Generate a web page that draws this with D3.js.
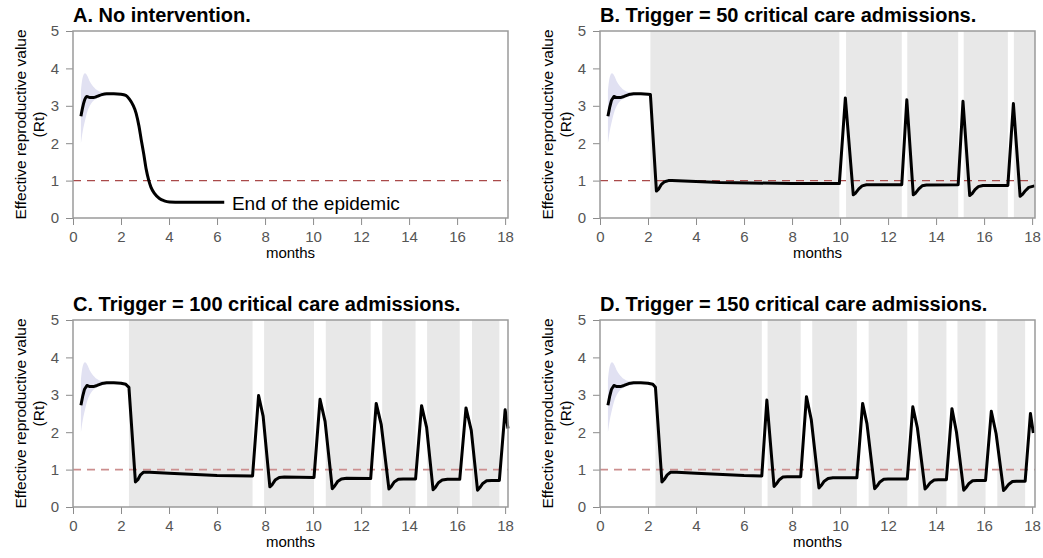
<!DOCTYPE html>
<meta charset="utf-8">
<html>
<script src="https://d3js.org/d3.v7.min.js"></script>
<style>
  body { margin: 0; background: #fff; }
  text { font-family: "Liberation Sans", Arial, sans-serif; }
</style>
<body>
<div id="chart"></div>
<script>

// ---- data ----
// shared start of the epidemic (months, Rt)
var startMonths = [0.33, 0.4, 0.48, 0.58, 0.7, 0.85, 1.0, 1.2, 1.4, 1.7, 2.0];
var startRt     = [2.72, 2.95, 3.15, 3.25, 3.22, 3.22, 3.25, 3.3, 3.32, 3.32, 3.31];

// uncertainty band around the start
var bandMonths = [0.33, 0.4, 0.5, 0.6, 0.7, 0.8, 1.0, 1.2, 1.5, 1.8];
var bandUpper  = [3.4, 3.75, 3.87, 3.8, 3.65, 3.55, 3.42, 3.36, 3.33, 3.31];
var bandLower  = [2.0, 2.3, 2.6, 2.85, 3.0, 3.1, 3.2, 3.25, 3.28, 3.3];

// A. no intervention
var monthsA = [2.2, 2.35, 2.5, 2.63, 2.75, 2.84, 2.95, 3.05, 3.15, 3.25, 3.4, 3.6, 3.8, 4.02, 4.5, 6.3];
var rtA     = [3.28, 3.18, 3.02, 2.8, 2.45, 2.1, 1.7, 1.3, 1.02, 0.82, 0.65, 0.52, 0.46, 0.43, 0.42, 0.42];

// B. trigger = 50
var monthsB = [2.1, 2.35, 2.45, 2.56, 2.69, 2.85, 3.0, 5, 8, 9.97, 10.22, 10.55, 10.65, 10.78, 10.92, 11.1, 12.57, 12.78,
               13.05, 13.15, 13.28, 13.42, 13.6, 14.92, 15.12, 15.4, 15.5, 15.62, 15.76, 15.95, 16.99, 17.22, 17.5,
               17.6, 17.72, 17.86, 18.1];
var rtB     = [3.3, 0.72, 0.78, 0.9, 0.97, 1.0, 1.0, 0.95, 0.92, 0.92, 3.21, 0.62, 0.67, 0.78, 0.86, 0.89, 0.89, 3.16,
               0.62, 0.67, 0.78, 0.86, 0.88, 0.89, 3.12, 0.6, 0.65, 0.76, 0.84, 0.87, 0.87, 3.06, 0.58,
               0.63, 0.73, 0.82, 0.86];
var shadeB  = [[2.10, 9.97], [10.25, 12.57], [12.80, 14.92], [15.15, 16.99], [17.24, 18.12]];

// C. trigger = 100
var monthsC = [2.2, 2.33, 2.6, 2.7, 2.8, 2.94, 3.2, 4, 6, 7.48, 7.73, 7.92, 8.2, 8.3, 8.42, 8.59, 8.8, 10.04, 10.29, 10.5,
               10.8, 10.9, 11.02, 11.18, 11.4, 12.40, 12.63, 12.84, 13.16, 13.26, 13.38, 13.55, 13.75, 14.27, 14.52, 14.73,
               15.0, 15.1, 15.22, 15.38, 15.6, 16.11, 16.37, 16.59, 16.85, 16.95, 17.07, 17.23, 17.45, 17.76, 18.0, 18.12];
var rtC     = [3.28, 3.2, 0.67, 0.73, 0.85, 0.93, 0.93, 0.9, 0.84, 0.83, 2.98, 2.43, 0.54, 0.6, 0.72, 0.79, 0.8, 0.79, 2.88, 2.29,
               0.49, 0.56, 0.68, 0.75, 0.77, 0.76, 2.77, 2.2, 0.48, 0.55, 0.67, 0.74, 0.75, 0.75, 2.71, 2.13,
               0.46, 0.53, 0.65, 0.72, 0.74, 0.74, 2.65, 2.05, 0.45, 0.52, 0.63, 0.7, 0.71, 0.71, 2.6, 2.1];
var shadeC  = [[2.33, 7.48], [7.96, 10.04], [10.53, 12.40], [12.88, 14.27], [14.75, 16.11], [16.62, 17.76]];

// D. trigger = 150
var monthsD = [2.2, 2.31, 2.58, 2.68, 2.8, 2.94, 3.2, 4, 6, 6.74, 6.95, 7.25, 7.35, 7.47, 7.62, 7.8, 8.36, 8.6, 8.8, 9.12,
               9.22, 9.34, 9.5, 9.7, 10.70, 10.94, 11.12, 11.44, 11.54, 11.66, 11.82, 12.0, 12.80, 13.03, 13.22, 13.54,
               13.64, 13.76, 13.92, 14.1, 14.43, 14.66, 14.85, 15.15, 15.25, 15.37, 15.52, 15.7, 16.06, 16.3, 16.5,
               16.81, 16.91, 17.03, 17.18, 17.35, 17.71, 17.93, 18.05];
var rtD     = [3.28, 3.2, 0.67, 0.74, 0.86, 0.93, 0.93, 0.9, 0.84, 0.83, 2.86, 0.55, 0.62, 0.73, 0.8, 0.81, 0.81, 2.95, 2.34, 0.51,
               0.58, 0.69, 0.76, 0.78, 0.78, 2.77, 2.23, 0.49, 0.56, 0.67, 0.74, 0.75, 0.75, 2.68, 2.12, 0.48,
               0.55, 0.65, 0.72, 0.73, 0.73, 2.63, 2.0, 0.45, 0.52, 0.63, 0.7, 0.71, 0.71, 2.56, 1.96,
               0.44, 0.51, 0.61, 0.68, 0.69, 0.69, 2.5, 1.98];
var shadeD  = [[2.31, 6.74], [6.98, 8.36], [8.84, 10.70], [11.19, 12.80], [13.26, 14.43], [14.89, 16.06], [16.55, 17.71]];

var xTicks = [0, 2, 4, 6, 8, 10, 12, 14, 16, 18];
var yTicks = [0, 1, 2, 3, 4, 5];

var panels = [
  {title: "A. No intervention.", months: monthsA, rt: rtA, shade: [], left: 73, top: 31, dash: "#a94a4a", smooth: true, note: "End of the epidemic"},
  {title: "B. Trigger = 50 critical care admissions.", months: monthsB, rt: rtB, shade: shadeB, left: 600, top: 31, dash: "#a94a4a"},
  {title: "C. Trigger = 100 critical care admissions.", months: monthsC, rt: rtC, shade: shadeC, left: 73, top: 320, dash: "#cc8e8e"},
  {title: "D. Trigger = 150 critical care admissions.", months: monthsD, rt: rtD, shade: shadeD, left: 600, top: 320, dash: "#cc8e8e"}
];

// ---- drawing ----
var width = 435, height = 187;

var svg = d3.select("#chart").append("svg")
    .attr("width", 1043)
    .attr("height", 558);

var x = d3.scaleLinear().domain([0, 18.12]).range([0, width]);
var y = d3.scaleLinear().domain([0, 5]).range([height, 0]);

var band = d3.area()
    .x(function(d) { return x(d[0]); })
    .y0(function(d) { return y(d[2]); })
    .y1(function(d) { return y(d[1]); })
    .curve(d3.curveMonotoneX);

var bandData = bandMonths.map(function(m, i) { return [m, bandUpper[i], bandLower[i]]; });

panels.forEach(function(p) {
  var g = svg.append("g").attr("transform", "translate(" + p.left + "," + p.top + ")");

  // grey shading = intervention periods
  g.selectAll("rect.shade")
    .data(p.shade)
    .enter().append("rect")
      .attr("class", "shade")
      .attr("x", function(d) { return x(d[0]); })
      .attr("width", function(d) { return x(d[1]) - x(d[0]); })
      .attr("y", 0)
      .attr("height", height)
      .attr("fill", "#e8e8e8");

  g.append("path")
    .attr("d", band(bandData))
    .attr("fill", "#e1e1f2");

  // Rt = 1 reference
  g.append("line")
    .attr("x1", 0).attr("x2", width)
    .attr("y1", y(1)).attr("y2", y(1))
    .attr("stroke", p.dash)
    .attr("stroke-width", p.smooth || p.title[0] == "B" ? 1.2 : 1.6)
    .attr("stroke-dasharray", "8,6");

  var pts = startMonths.map(function(m, i) { return [m, startRt[i]]; })
    .concat(p.months.map(function(m, i) { return [m, p.rt[i]]; }));

  var line = d3.line()
    .x(function(d) { return x(d[0]); })
    .y(function(d) { return y(d[1]); })
    .curve(p.smooth ? d3.curveMonotoneX : d3.curveLinear);

  g.append("path")
    .attr("d", line(pts))
    .attr("fill", "none")
    .attr("stroke", "#000")
    .attr("stroke-width", 3)
    .attr("stroke-linejoin", "round");

  if (p.note) {
    g.append("text")
      .attr("x", x(6.62))
      .attr("y", y(0.42) + 8)
      .style("font-size", "19px")
      .attr("fill", "#000")
      .text(p.note);
  }

  // axes
  var xAxis = g.append("g")
    .attr("transform", "translate(0," + height + ")")
    .call(d3.axisBottom(x).tickValues(xTicks).tickSize(7).tickSizeOuter(0).tickPadding(6));
  var yAxis = g.append("g")
    .call(d3.axisLeft(y).tickValues(yTicks).tickFormat(d3.format("d")).tickSize(7).tickSizeOuter(0).tickPadding(7));
  [xAxis, yAxis].forEach(function(a) {
    a.select(".domain").remove();
    a.selectAll("line").attr("stroke", "#8c8c8c");
    a.selectAll("text").attr("fill", "#555").style("font-size", "15px")
      .style("font-family", "'Liberation Sans', Arial, sans-serif");
  });

  g.append("rect")
    .attr("width", width).attr("height", height)
    .attr("fill", "none")
    .attr("stroke", "#9a9a9a")
    .attr("stroke-width", 1.5);

  g.append("text")
    .attr("x", 0)
    .attr("y", -9)
    .style("font-size", "20px")
    .style("font-weight", "bold")
    .attr("fill", "#000")
    .text(p.title);

  g.append("text")
    .attr("x", width / 2)
    .attr("y", height + 40)
    .attr("text-anchor", "middle")
    .style("font-size", "15px")
    .attr("fill", "#000")
    .text("months");

  var yl = g.append("text")
    .attr("transform", "translate(-47," + height / 2 + ") rotate(-90)")
    .attr("text-anchor", "middle")
    .style("font-size", "15.5px")
    .attr("fill", "#000");
  yl.append("tspan").attr("x", 0).attr("y", 0).text("Effective reproductive value");
  yl.append("tspan").attr("x", 0).attr("y", 18).text("(Rt)");
});

</script>
</body>
</html>
